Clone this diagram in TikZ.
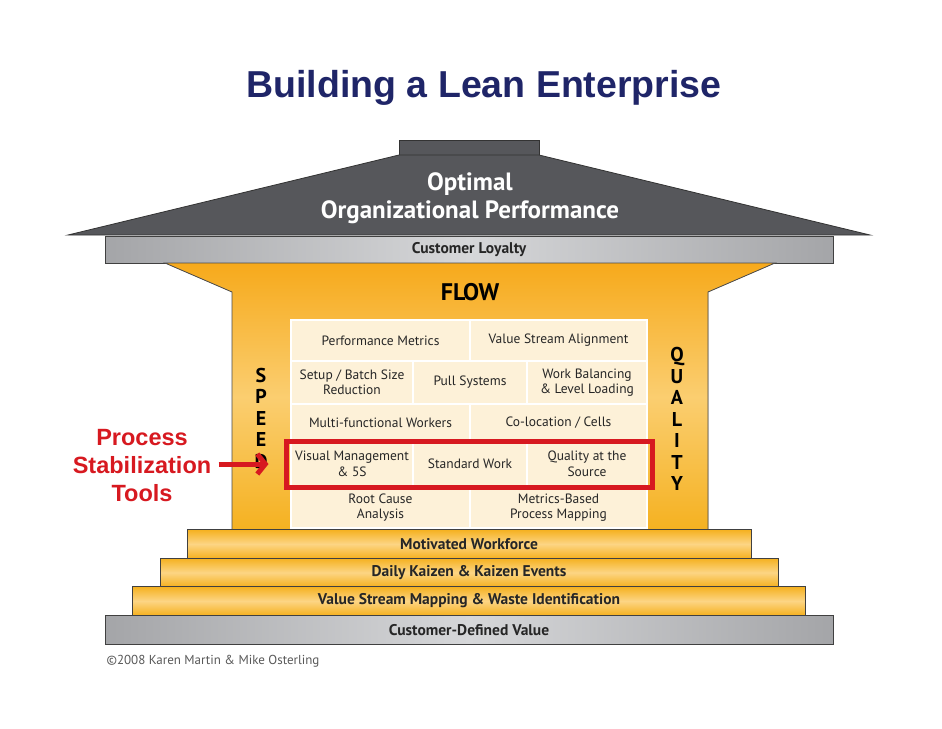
\documentclass[tikz,border=0pt]{standalone}
\usepackage{fontspec}
\setmainfont{PT Sans}
\newfontfamily\titlefont{Liberation Sans}
\usepackage{tikz}
\usetikzlibrary{arrows.meta, positioning, fit}
\definecolor{leannavy}{HTML}{1F2568}
\definecolor{roofgray}{HTML}{56575B}
\definecolor{beamlight}{HTML}{D6D7D9}
\definecolor{beamdark}{HTML}{A4A5A8}
\definecolor{leanyellow}{HTML}{F5B120}
\definecolor{leanlight}{HTML}{FCD584}
\definecolor{cellcream}{HTML}{FDF1D8}
\definecolor{leanred}{HTML}{D71920}

\begin{document}
\begin{tikzpicture}[x=1pt, y=-1pt, >=Latex,
  beam/.style={draw=black!75, line width=0.8pt, inner sep=0pt, outer sep=0pt, minimum height=28pt,
    left color=beamdark, right color=beamdark, middle color=beamlight,
    font=\bfseries\fontsize{15.5}{17}\selectfont, text=black!85},
  stair/.style={draw=black!75, line width=0.8pt, inner sep=0pt, outer sep=0pt, minimum height=28.5pt,
    top color=leanyellow, bottom color=leanyellow, middle color=leanlight,
    font=\bfseries\fontsize{15.5}{17}\selectfont, text=black!85},
  cell/.style={draw=white, line width=1.5pt, fill=cellcream, inner sep=0pt, outer sep=0pt, align=center,
    font=\fontsize{13.5}{15.5}\selectfont, text=black!85},
  pillar/.style={align=center, font=\bfseries\fontsize{20}{21.5}\selectfont},
  redbox/.style={draw=leanred, line width=5pt, inner xsep=5pt, inner ysep=0pt}]
\useasboundingbox[fill=white] (0,0) rectangle (942,728);

\node[font=\titlefont\bfseries\fontsize{37.5}{40}\selectfont, text=leannavy] (title) at (484,88) {Building a Lean Enterprise};

% roof
\filldraw[fill=roofgray, draw=black!80, line width=0.8pt] (399,140) rectangle (539,155);
\filldraw[fill=roofgray, draw=black!80, line width=0.8pt] (399,155) -- (539,155) -- (870,235) -- (68,235) -- cycle;
\node[align=center, text=white, font=\bfseries\fontsize{25}{28}\selectfont] (roof) at (470,198) {Optimal\\Organizational Performance};
\node[beam, minimum width=728pt, minimum height=27pt] (loyalty) at (469,249.5) {Customer Loyalty};

% house body
\filldraw[draw=black!70, line width=0.8pt, top color=leanyellow!85!orange, bottom color=leanyellow, middle color=leanlight!80!leanyellow]
  (165,263) -- (775,263) -- (708,292) -- (708,531) -- (232,531) -- (232,292) -- cycle;
\node[font=\bfseries\fontsize{24}{26}\selectfont] (flow) at (470,292) {FLOW};

% tools
\node[cell, anchor=north west, minimum width=179pt, minimum height=41pt] (perf) at (291,320) {Performance Metrics};
\node[cell, right=0pt of perf, minimum width=177pt, minimum height=41pt] (vsa) {Value Stream Alignment};
\node[cell, anchor=north west, minimum width=122pt, minimum height=43pt] (setup) at (291,361) {Setup / Batch Size\\Reduction};
\node[cell, right=0pt of setup, minimum width=114pt, minimum height=43pt] (pull) {Pull Systems};
\node[cell, right=0pt of pull, minimum width=120pt, minimum height=43pt] (balance) {Work Balancing\\\& Level Loading};
\node[cell, anchor=north west, minimum width=179pt, minimum height=37pt] (multi) at (291,404) {Multi-functional Workers};
\node[cell, right=0pt of multi, minimum width=177pt, minimum height=37pt] (coloc) {Co-location / Cells};
\node[cell, anchor=north west, minimum width=122pt, minimum height=46pt] (visual) at (291,441) {Visual Management\\\& 5S};
\node[cell, right=0pt of visual, minimum width=114pt, minimum height=46pt] (stdwork) {Standard Work};
\node[cell, right=0pt of stdwork, minimum width=120pt, minimum height=46pt] (source) {Quality at the\\Source};
\node[cell, anchor=north west, minimum width=179pt, minimum height=41pt] (rootcause) at (291,487) {Root Cause\\Analysis};
\node[cell, right=0pt of rootcause, minimum width=177pt, minimum height=41pt] (metrics) {Metrics-Based\\Process Mapping};
\node[redbox, fit=(visual) (source)] (stabil) {};

\node[pillar] (speed) at (261,418) {S\\P\\E\\E\\D};
\node[pillar] (quality) at (677,419) {Q\\U\\A\\L\\I\\T\\Y};

\node[align=center, text=leanred, font=\titlefont\bfseries\fontsize{23.5}{28}\selectfont] (proc) at (142,466) {Process\\Stabilization\\Tools};
\draw[leanred, line width=5pt, -{Straight Barb[length=8pt, width=20pt]}, shorten <=4pt, shorten >=15pt] (proc.east |- stabil.west) -- (stabil.west);

% foundation
\node[stair, minimum width=564pt] (workforce) at (469,544) {Motivated Workforce};
\node[stair, minimum width=618pt, below=0pt of workforce] (kaizen) {Daily Kaizen \& Kaizen Events};
\node[stair, minimum width=673pt, below=0pt of kaizen] (mapping) {Value Stream Mapping \& Waste Identification};
\node[beam, minimum width=728pt, minimum height=29pt, below=0pt of mapping] (value) {Customer-Defined Value};

\node[anchor=west, text=black!65, font=\fontsize{13}{15}\selectfont] (copy) at (103,661) {©2008 Karen Martin \& Mike Osterling};
\end{tikzpicture}
\end{document}
